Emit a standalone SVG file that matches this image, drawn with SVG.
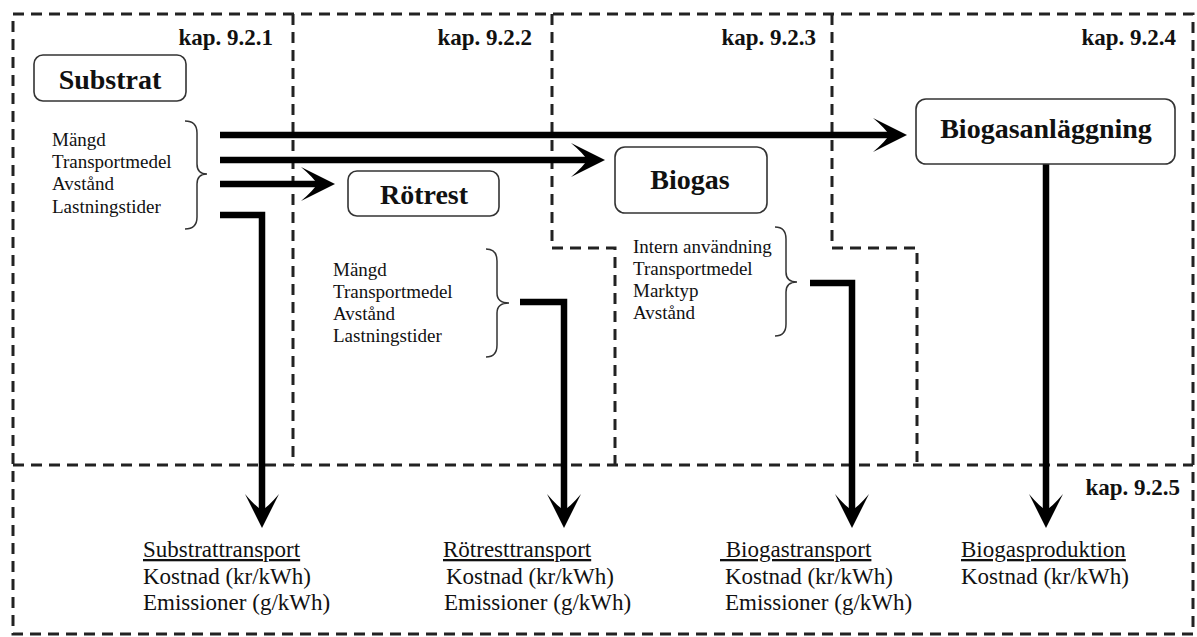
<svg xmlns="http://www.w3.org/2000/svg" width="1197" height="637" viewBox="0 0 1197 637">
  <style>
    .frame { fill: none; stroke: #222; stroke-width: 3; stroke-dasharray: 11 7; }
    .box { fill: #fff; stroke: #333; stroke-width: 1.6; }
    .boxlabel { font-family: "Liberation Serif", "Times New Roman", serif; font-weight: bold; font-size: 28px; fill: #111; text-anchor: middle; }
    .kap { font-family: "Liberation Serif", "Times New Roman", serif; font-weight: bold; font-size: 23px; fill: #111; text-anchor: end; }
    .list { font-family: "Liberation Serif", "Times New Roman", serif; font-size: 19px; fill: #111; }
    .result { font-family: "Liberation Serif", "Times New Roman", serif; font-size: 23px; fill: #111; }
    .head { text-decoration: underline; }
    .brace { fill: none; stroke: #333; stroke-width: 1.5; }
    .flow { fill: none; stroke: #000; stroke-width: 6.5; stroke-linejoin: miter; }
  </style>
  <defs>
    <marker id="arrow" markerUnits="userSpaceOnUse" viewBox="0 0 34 34" markerWidth="34" markerHeight="34" refX="16" refY="17" orient="auto">
      <path d="M34,17 L0,0 Q13,11 16,17 Q13,23 0,34 Z" fill="#000"/>
    </marker>
  </defs>

  <rect width="1197" height="637" fill="#fff"/>

  <!-- chapter regions -->
  <g id="regions">
    <rect class="frame" x="13" y="14" width="1180" height="620"/>
    <path class="frame" d="M13,465 H1193"/>
    <path class="frame" d="M293,14 V465"/>
    <path class="frame" d="M552,14 V248 H615 V465"/>
    <path class="frame" d="M832,14 V248 H917 V465"/>
    <text class="kap" x="273" y="45">kap. 9.2.1</text>
    <text class="kap" x="532" y="45">kap. 9.2.2</text>
    <text class="kap" x="816" y="45">kap. 9.2.3</text>
    <text class="kap" x="1176" y="45">kap. 9.2.4</text>
    <text class="kap" x="1180" y="495">kap. 9.2.5</text>
  </g>

  <!-- flows -->
  <g id="connectors">
    <path class="flow" d="M220,135 H889" marker-end="url(#arrow)"/>
    <path class="flow" d="M220,160 H587" marker-end="url(#arrow)"/>
    <path class="flow" d="M220,184 H317" marker-end="url(#arrow)"/>
    <path class="flow" d="M220,215 H262 V510" marker-end="url(#arrow)"/>
    <path class="flow" d="M520,302 H564 V510" marker-end="url(#arrow)"/>
    <path class="flow" d="M810,283 H852 V510" marker-end="url(#arrow)"/>
    <path class="flow" d="M1046,164 V510" marker-end="url(#arrow)"/>
  </g>

  <g id="substrat">
    <rect class="box" x="34" y="55" width="152" height="46" rx="9"/>
    <text class="boxlabel" x="110" y="89">Substrat</text>
  </g>

  <g id="substrat-params">
    <text class="list" x="52" y="146">Mängd</text>
    <text class="list" x="52" y="168">Transportmedel</text>
    <text class="list" x="52" y="190">Avstånd</text>
    <text class="list" x="52" y="213">Lastningstider</text>
    <path class="brace" d="M185,121 Q197,121 197,133 L197,164 Q197,174 207,174 Q197,174 197,184 L197,217 Q197,229 185,229"/>
  </g>

  <g id="rotrest">
    <rect class="box" x="348" y="171" width="151" height="45" rx="9"/>
    <text class="boxlabel" x="424" y="204">Rötrest</text>
  </g>

  <g id="rotrest-params">
    <text class="list" x="333" y="276">Mängd</text>
    <text class="list" x="333" y="298">Transportmedel</text>
    <text class="list" x="333" y="320">Avstånd</text>
    <text class="list" x="333" y="342">Lastningstider</text>
    <path class="brace" d="M486,249 Q497,249 497,261 L497,293 Q497,303 509,303 Q497,303 497,313 L497,345 Q497,357 486,357"/>
  </g>

  <g id="biogas">
    <rect class="box" x="615" y="147" width="152" height="66" rx="10"/>
    <text class="boxlabel" x="690" y="189">Biogas</text>
  </g>

  <g id="biogas-params">
    <text class="list" x="633" y="253">Intern användning</text>
    <text class="list" x="633" y="275">Transportmedel</text>
    <text class="list" x="633" y="297">Marktyp</text>
    <text class="list" x="633" y="319">Avstånd</text>
    <path class="brace" d="M775,227 Q786,227 786,239 L786,272 Q786,282 797,282 Q786,282 786,292 L786,324 Q786,336 775,336"/>
  </g>

  <g id="biogasanlaggning">
    <rect class="box" x="916" y="99" width="259" height="65" rx="10"/>
    <text class="boxlabel" x="1046" y="138">Biogasanläggning</text>
  </g>

  <g id="substrattransport">
    <text class="result head" x="143" y="557">Substrattransport</text>
    <text class="result" x="143" y="584">Kostnad (kr/kWh)</text>
    <text class="result" x="143" y="610">Emissioner (g/kWh)</text>
  </g>

  <g id="rotresttransport">
    <text class="result head" x="443" y="557">Rötresttransport</text>
    <text class="result" x="446" y="584">Kostnad (kr/kWh)</text>
    <text class="result" x="444" y="610">Emissioner (g/kWh)</text>
  </g>

  <g id="biogastransport">
    <text class="result head" x="720" y="557">&#160;Biogastransport</text>
    <text class="result" x="725" y="584">Kostnad (kr/kWh)</text>
    <text class="result" x="725" y="610">Emissioner (g/kWh)</text>
  </g>

  <g id="biogasproduktion">
    <text class="result head" x="961" y="557">Biogasproduktion</text>
    <text class="result" x="961" y="584">Kostnad (kr/kWh)</text>
  </g>
</svg>
